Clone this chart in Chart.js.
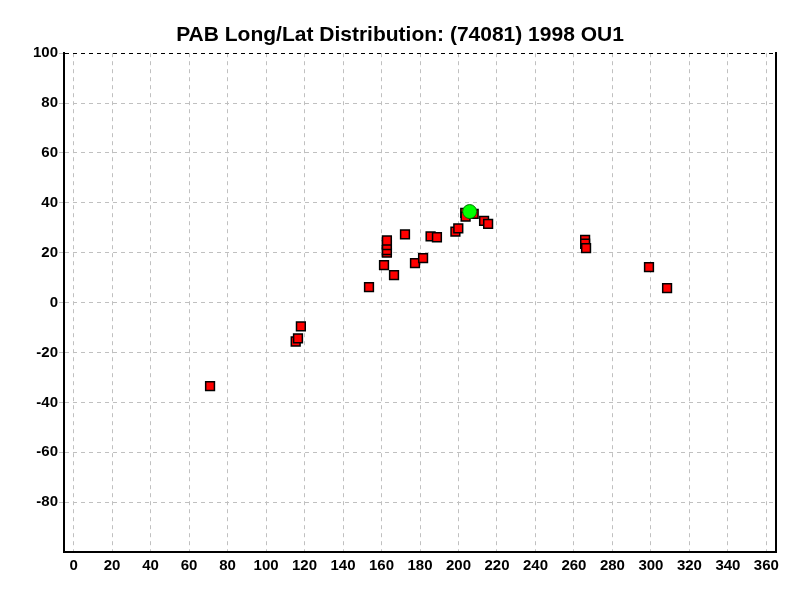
<!DOCTYPE html>
<html>
<head>
<meta charset="utf-8">
<script src="https://cdn.jsdelivr.net/npm/chart.js@4/dist/chart.umd.min.js"></script>
<style>
  body { margin: 0; background: #fff; }
  #chart { display: block; }
</style>
</head>
<body>
<canvas id="chart" width="800" height="600"></canvas>
<script>
// Observed positions (longitude, latitude)
const obsLong = [70.9, 115.4, 116.6, 118.1, 153.5, 161.3, 162.8, 162.8, 162.8, 162.8, 166.5, 172.2, 177.4, 181.6,
    185.5, 188.8, 198.4, 199.9, 203.5, 203.7, 207.9, 213.3, 215.4, 265.8, 265.8, 266.3, 299.0, 308.4];
const obsLat = [-33.5, -15.6, -14.3, -9.5, 6.2, 15.0, 20.0, 21.0, 23.0, 24.9, 11.0, 27.4, 15.8, 17.8,
    26.6, 26.2, 28.5, 29.8, 36.0, 34.5, 35.6, 32.8, 31.6, 25.1, 23.6, 21.8, 14.2, 5.8];

// Current position
const curLong = [205.8];
const curLat = [36.5];

const xTicks = [0, 20, 40, 60, 80, 100, 120, 140, 160, 180, 200, 220, 240, 260, 280, 300, 320, 340, 360];
const yTicks = [-80, -60, -40, -20, 0, 20, 40, 60, 80, 100];

const toPoints = (xs, ys) => xs.map((x, i) => ({ x: x, y: ys[i] }));

const tickFont = { family: "'Liberation Sans', Arial, sans-serif", size: 15, weight: "bold" };

const ctx = document.getElementById("chart").getContext("2d");
new Chart(ctx, {
    type: "scatter",
    data: {
        datasets: [
            {
                label: "Current",
                data: toPoints(curLong, curLat),
                pointStyle: "circle",
                pointRadius: 7,
                backgroundColor: "#00ff00",
                borderColor: "#007000",
                borderWidth: 1,
            },
            {
                label: "Observed",
                data: toPoints(obsLong, obsLat),
                pointStyle: "rect",
                pointRadius: 6.2,
                backgroundColor: "#ff0000",
                borderColor: "#000000",
                borderWidth: 1.5,
            },
        ],
    },
    options: {
        responsive: false,
        animation: false,
        layout: { padding: 0 },
        plugins: {
            legend: { display: false },
            tooltip: { enabled: false },
            title: {
                display: true,
                text: "PAB Long/Lat Distribution: (74081) 1998 OU1",
                color: "#000",
                font: { family: "'Liberation Sans', Arial, sans-serif", size: 21, weight: "bold" },
                padding: { top: 23, bottom: 5 },
            },
        },
        scales: {
            x: {
                type: "linear",
                min: -5,
                max: 365,
                afterBuildTicks: (scale) => { scale.ticks = xTicks.map((v) => ({ value: v })); },
                afterFit: (scale) => { scale.height = 48; },
                ticks: { color: "#000", font: tickFont, padding: 5, maxRotation: 0, autoSkip: false },
                grid: { color: "#c0c0c0", lineWidth: 1, drawTicks: false },
                border: { display: true, color: "#000", width: 2, dash: [4, 4] },
            },
            y: {
                type: "linear",
                min: -100,
                max: 100,
                afterBuildTicks: (scale) => { scale.ticks = yTicks.map((v) => ({ value: v })); },
                afterFit: (scale) => { scale.width = 64; },
                ticks: { color: "#000", font: tickFont, padding: 1 },
                grid: {
                    color: (c) => (c.tick && c.tick.value === 100 ? "#000" : "#c0c0c0"),
                    lineWidth: 1,
                    tickLength: 5,
                    tickColor: "#c0c0c0",
                },
                border: { display: true, color: "#000", width: 2, dash: [4, 4] },
            },
            y2: {
                type: "linear",
                position: "right",
                min: -100,
                max: 100,
                afterFit: (scale) => { scale.width = 24; },
                ticks: { display: false },
                grid: { display: false },
                border: { display: true, color: "#000", width: 2 },
            },
        },
    },
});
</script>
</body>
</html>
